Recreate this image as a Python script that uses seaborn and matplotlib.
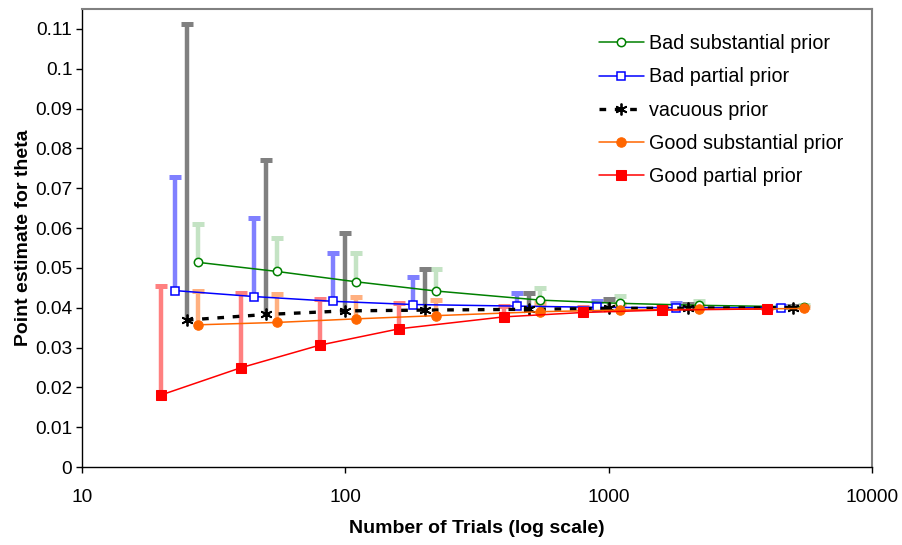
import numpy as np
import pandas as pd
import matplotlib
matplotlib.use("Agg")
import matplotlib.pyplot as plt
import seaborn as sns

# ── data ─────────────────────────────────────────────────────────
trials_vac = [25, 50, 100, 200, 500, 1000, 2000, 5000]
trials_gp = [20, 40, 80, 160, 400, 800, 1600, 4000]
trials_bp = [22.5, 45, 90, 180, 450, 900, 1800, 4500]
trials_sub = [27.5, 55, 110, 220, 550, 1100, 2200, 5500]

bad_sub = [0.0514, 0.0491, 0.0465, 0.0442, 0.0419, 0.0411, 0.0406, 0.0402]
bad_sub_top = [0.0610, 0.0576, 0.0537, 0.0496, 0.0449, 0.0429, 0.0418, 0.0408]

bad_part = [0.0443, 0.0428, 0.0416, 0.0408, 0.0404, 0.0401, 0.0400, 0.0400]
bad_part_top = [0.0729, 0.0626, 0.0538, 0.0478, 0.0436, 0.0418, 0.0411, 0.0405]

vacuous = [0.0369, 0.0383, 0.0392, 0.0394, 0.0396, 0.0398, 0.0399, 0.0400]
vacuous_top = [0.1112, 0.0771, 0.0587, 0.0496, 0.0438, 0.0421, 0.0410, 0.0404]

good_sub = [0.0357, 0.0363, 0.0372, 0.0380, 0.0390, 0.0394, 0.0396, 0.0398]
good_sub_top = [0.0442, 0.0434, 0.0426, 0.0419, 0.0413, 0.0409, 0.0405, 0.0402]

good_part = [0.0181, 0.0249, 0.0306, 0.0347, 0.0377, 0.0388, 0.0394, 0.0397]
good_part_top = [0.0455, 0.0436, 0.0421, 0.0411, 0.0404, 0.0402, 0.0401, 0.0400]

labels = ["Bad substantial prior", "Bad partial prior", "vacuous prior",
          "Good substantial prior", "Good partial prior"]

sns.set_theme(style="white")
plt.rcParams["font.family"] = ["Liberation Sans", "DejaVu Sans"]
plt.rcParams.update({"text.color": "black", "axes.labelcolor": "black",
                     "xtick.color": "black", "ytick.color": "black"})

fig = plt.figure(figsize=(9.03, 5.45), dpi=100)
ax = fig.add_axes([0.0908, 0.1431, 0.8749, 0.8404])
ax.set_xscale("log")

series = [
    (trials_sub, bad_sub, bad_sub_top, "#008000", "#C4E3C4",
     dict(marker="o", markersize=6, markerfacecolor="white", markeredgecolor="#008000", markeredgewidth=1.1)),
    (trials_bp, bad_part, bad_part_top, "#0000FF", "#8080FF",
     dict(marker="s", markersize=5.2, markerfacecolor="white", markeredgecolor="#0000FF", markeredgewidth=1.1)),
    (trials_vac, vacuous, vacuous_top, "black", "#808080",
     dict(marker=(6, 2, 0), markersize=8.5, markeredgecolor="black", markeredgewidth=1.3)),
    (trials_sub, good_sub, good_sub_top, "#FF6600", "#FFB080",
     dict(marker="o", markersize=6.8, markerfacecolor="#FF6600", markeredgecolor="#FF6600")),
    (trials_gp, good_part, good_part_top, "#FF0000", "#FF8080",
     dict(marker="s", markersize=6.5, markerfacecolor="#FF0000", markeredgecolor="#FF0000")),
]

# error bars (plus direction only, cap at top) drawn first
for x, y, top, col, ecol, mk in series:
    ax.vlines(x, y, top, colors=ecol, linewidth=3.2, zorder=1)
    ax.plot(x, top, linestyle="none", marker="_", markersize=9,
            markeredgewidth=3.6, color=ecol, zorder=1)

for (x, y, top, col, ecol, mk), lab in zip(series, labels):
    df = pd.DataFrame({"x": x, "y": y})
    ls = (0, (2, 2.6)) if lab == "vacuous prior" else "-"
    lw = 2.4 if lab == "vacuous prior" else 1.1
    sns.lineplot(data=df, x="x", y="y", ax=ax, color=col, linewidth=lw,
                 linestyle=ls, label=lab, zorder=3, **mk)

ax.set_xlim(10, 10000)
ax.set_ylim(0, 0.115)
ax.set_yticks(np.arange(0, 0.111, 0.01))
ax.set_yticklabels(["0"] + [f"{v:g}" for v in np.arange(0.01, 0.111, 0.01).round(2)])
ax.set_xticks([10, 100, 1000, 10000])
ax.set_xticklabels(["10", "100", "1000", "10000"])
ax.xaxis.set_minor_locator(matplotlib.ticker.NullLocator())
ax.tick_params(axis="both", which="major", direction="out", length=4, width=1,
               color="black", labelcolor="black", labelsize=13.8, bottom=True, left=True)
ax.tick_params(axis="x", pad=12)
ax.tick_params(axis="y", pad=3)

for side in ["left", "bottom"]:
    ax.spines[side].set_color("black")
    ax.spines[side].set_linewidth(1)
for side in ["top", "right"]:
    ax.spines[side].set_color("#808080")
    ax.spines[side].set_linewidth(1.5)

ax.set_xlabel("Number of Trials (log scale)", fontsize=14, fontweight="bold", labelpad=10)
ax.set_ylabel("Point estimate for theta", fontsize=14, fontweight="bold", labelpad=2)

leg = ax.legend(loc="upper left", bbox_to_anchor=(0.644, 0.962), frameon=False,
                fontsize=14.2, handlelength=2.3, handletextpad=0.26,
                labelspacing=0.72, borderaxespad=0)
for t in leg.get_texts():
    t.set_color("black")

fig.savefig("out.png", dpi=100)
